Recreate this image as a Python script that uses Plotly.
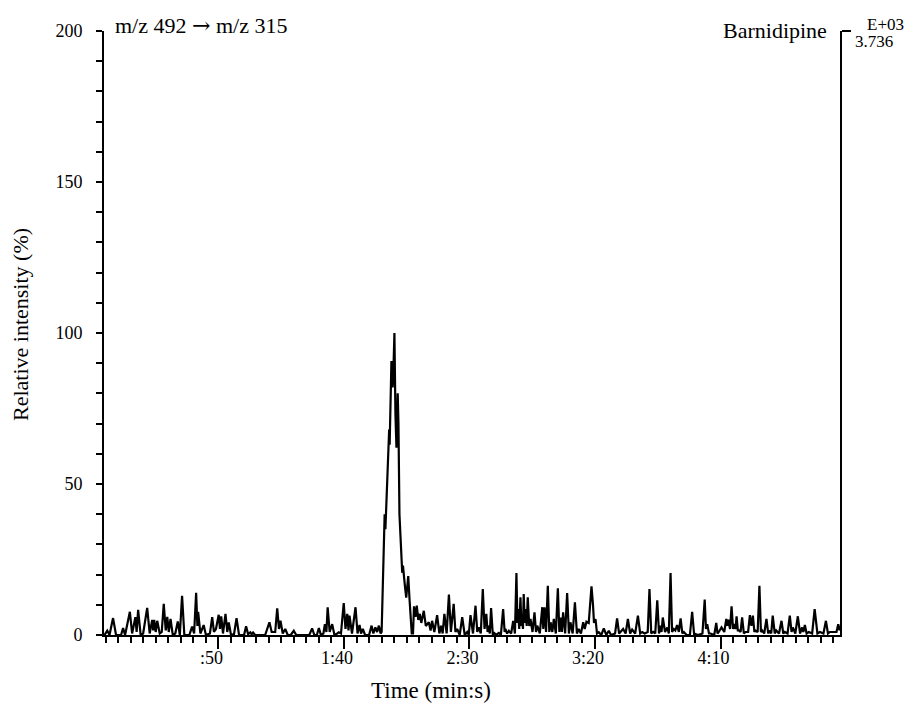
import plotly.graph_objects as go

# Barnidipine SRM chromatogram, m/z 492 -> m/z 315
# time in seconds, relative intensity in %

pre_time = [4.6, 5.7, 6.6, 8.0, 9.2, 11.2, 12.0, 12.8, 14.7, 15.6, 16.9, 17.4, 18.0, 19.0,
            20.0, 21.6, 22.6, 23.6, 24.0, 24.4, 25.0, 25.6, 26.6, 27.4, 28.2, 29.0, 29.6,
            30.2, 30.9, 31.8, 32.8, 33.8, 34.6, 35.5, 36.4, 38.4, 39.5, 40.3, 41.1, 41.6,
            41.9, 42.8, 44.1, 45.0, 46.6, 47.5, 48.2, 49.0, 50.1, 50.6, 51.1, 51.8, 52.8,
            53.5, 54.1, 55.0, 56.2, 57.2, 58.2, 60.2, 61.0, 61.8, 62.7, 63.2, 63.8, 64.6,
            68.6, 70.3, 71.2, 72.6, 73.4, 74.1, 74.7, 75.6, 76.6, 77.6, 78.8, 80.0, 81.0,
            86.2, 87.3, 88.2, 89.2, 90.0, 90.8, 91.8, 92.4, 93.0, 93.5, 94.3, 95.3, 96.2,
            97.0, 97.9, 98.8, 99.9, 100.6, 101.3, 101.8, 102.2, 103.2, 104.6, 105.4, 106.2,
            106.8, 107.5, 108.4, 110.0, 111.0, 111.7, 112.5, 113.2, 113.9, 114.6]
pre_int = [0, 1.4, 0, 5.6, 0, 0, 2.3, 0, 7.7, 0.5, 5.9, 1, 8.3, 0,
           0.5, 9.0, 0.5, 5.0, 1.5, 5.0, 1, 4.7, 0.5, 1, 10.3, 1.5, 6.0,
           1, 5.3, 0, 0.5, 4.5, 0, 13.0, 0, 0, 2.8, 0.5, 14.0, 3,
           7.7, 0.5, 3.3, 0, 0.5, 5.9, 1, 2, 6.7, 2, 6.2, 0.5, 7.0,
           1, 4.2, 0, 0.3, 5.6, 0, 0, 2.9, 0.3, 0.9, 0.2, 0.8, 0,
           0, 4.2, 1, 1, 8.8, 2, 4.7, 0.5, 2.0, 0, 0, 1.4, 0,
           0, 2.2, 0, 0, 2.3, 0, 0.5, 3.6, 1, 9.2, 1, 3.6, 0,
           0.3, 0.9, 0.5, 10.6, 2, 7.0, 1.5, 6.4, 0.5, 9.2, 0.5, 3.3,
           0.5, 2.0, 0, 0, 3.1, 0.5, 2.5, 1, 3.1, 0.5]

peak_time = [115.0, 115.9, 116.2, 116.5, 117.2, 117.8, 118.0, 118.2, 118.6, 118.9, 119.2,
             119.4, 119.7, 120.1, 120.5, 120.9, 121.4, 121.7, 122.1, 122.5, 122.9, 123.2,
             123.5, 123.8, 124.3, 124.8, 125.2, 125.6, 126.1, 126.5, 127.0, 127.5, 127.9,
             128.5, 129.0, 129.6, 130.2, 130.8, 131.8, 132.6, 133.8, 134.5]
peak_int = [1, 38.8, 40, 35, 51, 66.6, 68, 63, 75, 90.7, 86,
            82, 88, 100, 73, 62, 80, 70, 40, 32, 30, 20.6,
            23, 19, 16, 12.4, 16, 19.5, 12, 8, 0.5, 0.5, 9.5,
            6, 9.7, 5, 7, 4, 8, 3, 4.2, 1.5]

post_time = [135.1, 136.0, 137.1, 138.0, 138.7, 139.3, 140.0, 140.9, 141.8, 142.6, 143.7,
             144.4, 145.1, 146.1, 147.1, 148.1, 149.1, 149.7, 150.4, 151.4, 152.4, 153.1,
             153.7, 154.5, 155.3, 156.0, 156.7, 157.2, 157.7, 158.1, 158.6, 159.3, 159.7,
             160.5, 161.7, 162.5, 163.4, 164.0, 164.3, 165.0, 165.7, 166.6, 167.4, 168.1,
             168.7, 169.1, 169.4, 169.8, 170.3, 170.7, 171.0, 171.3, 171.6, 172.0, 172.3,
             172.8, 173.2, 173.8, 174.3, 175.1, 175.9, 176.5, 177.0, 178.0, 179.0, 179.4,
             179.9, 180.5, 181.2, 181.8, 182.3, 183.0, 183.6, 184.4, 185.2, 185.8, 186.3,
             186.8, 187.3, 188.1, 188.9, 189.6, 190.2, 191.1, 192.0, 192.8, 193.5, 194.4,
             195.3, 195.9, 196.6, 197.5, 198.0, 198.6, 199.2, 199.6, 200.2, 200.8, 201.5,
             202.5, 203.5, 204.5, 205.5, 206.4, 208.0, 208.8, 209.6, 211.2, 212.2, 213.1,
             214.0, 214.8, 216.0, 217.1, 218.0, 218.8, 219.8, 221.0, 221.7, 222.4, 223.2,
             224.0, 224.8, 225.5, 226.1, 226.5, 227.0, 227.9, 228.8, 229.4, 230.1, 230.7,
             231.4, 232.0, 232.7, 233.4, 234.1, 234.8, 235.4, 236.5, 237.8, 238.7, 239.5,
             240.0, 241.0, 242.8, 243.7, 244.2, 244.7, 245.4, 246.0, 247.5, 248.3, 248.8,
             249.3, 250.4, 251.5, 252.3, 252.7, 253.1, 253.8, 254.4, 255.0, 255.5, 256.0,
             256.4, 256.9, 257.3, 258.0, 258.6, 259.3, 260.0, 261.0, 261.7, 262.3, 262.9,
             263.5, 263.9, 264.8, 265.5, 266.1, 266.6, 267.4, 268.3, 269.0, 269.6, 270.2,
             270.8, 271.6, 272.2, 273.3, 274.3, 275.0, 275.6, 276.7, 277.6, 278.3, 278.8,
             279.8, 280.8, 281.7, 282.5, 283.0, 283.6, 284.3, 285.2, 286.5, 287.5, 288.6,
             289.6, 291.0, 292.0, 292.8, 293.6, 295.0, 296.2, 296.9, 297.5]
post_int = [4.7, 1, 6.6, 0.5, 3.1, 0.5, 7.0, 0.5, 13.4, 1, 10.3,
            1, 2.0, 0, 5.9, 0, 1, 0, 6.6, 0.5, 9.7, 1,
            2.5, 0.5, 15.2, 2, 7.0, 1, 3.1, 0.5, 8.9, 0, 0.9,
            0, 0.7, 0, 8.6, 1, 2, 0.5, 1.4, 0.5, 4.7, 0.5,
            20.5, 4, 8.6, 2, 12.5, 3, 5.3, 2, 13.6, 4, 8.6,
            3, 12.5, 3, 5.3, 1, 7.5, 1, 3.1, 0.5, 9.2, 2,
            9.2, 1, 16.3, 1, 4.2, 1, 5.3, 0.5, 15.5, 1, 5.8,
            1, 7.5, 0.5, 13.9, 0.5, 4.2, 0.5, 10.8, 0.5, 2.0, 0.5,
            4.2, 2, 4.4, 4, 10, 16.1, 10, 4, 5.3, 0.5, 0.9,
            0, 2.2, 0, 1.4, 0, 0.5, 5.5, 0.5, 2.0, 0.5, 5.3,
            0.5, 1.8, 0.5, 6.4, 0.5, 1, 0.5, 1, 15.2, 0.5, 1,
            0.5, 11.5, 0.5, 3.1, 1, 5.8, 1, 2.5, 0.5, 20.5, 1,
            2, 1.5, 3.3, 1, 5.5, 0.5, 1, 0, 0, 7.7, 0,
            0.3, 0, 0.5, 11.7, 2, 3.6, 0.5, 0.5, 0, 4, 0.5,
            1, 2.5, 1, 5.3, 3, 5.1, 2, 9.5, 2, 3.6, 2,
            6.2, 1.5, 1.5, 1, 5.8, 0.5, 1, 1, 6.6, 3, 6.4,
            1, 1.5, 1, 16.3, 1, 1.5, 0.5, 5.3, 0.5, 1.5, 0.5,
            6.4, 0.5, 1.5, 0.5, 4.7, 0.5, 1, 0.5, 6.4, 1, 2.5,
            0.5, 6.2, 0.5, 2.5, 1, 3.3, 0.5, 1, 0.5, 8.6, 0.5,
            1, 0.5, 4.7, 0.5, 1, 1, 1, 3.6, 1.5]

major_ticks = [50, 100, 150, 200, 250]
major_labels = [":50", "1:40", "2:30", "3:20", "4:10"]
y_ticks = [0, 50, 100, 150, 200]

time_s = pre_time + peak_time + post_time
intensity = pre_int + peak_int + post_int

W, H = 906, 703
L, R, T, B = 104, 66, 31, 68
FONT = "Liberation Serif, Times New Roman, serif"


def px(x):
    return (x - L) / (W - L - R)


def py(y):
    return (H - B - y) / (H - T - B)


fig = go.Figure()
fig.add_trace(go.Scatter(
    x=time_s, y=intensity, mode="lines",
    line=dict(color="black", width=2.2), hoverinfo="skip", showlegend=False,
))
# empty trace so the right-hand scale bar axis is drawn
fig.add_trace(go.Scatter(x=[], y=[], yaxis="y2", showlegend=False))

axis_font = dict(family=FONT, size=18, color="black")

fig.update_layout(
    width=W, height=H,
    margin=dict(l=L, r=R, t=T, b=B),
    paper_bgcolor="white", plot_bgcolor="white",
    font=dict(family=FONT, color="black"),
    xaxis=dict(
        range=[4.4, 297.6], showgrid=False, zeroline=False,
        showline=True, linecolor="black", linewidth=2,
        tickmode="array", tickvals=major_ticks, ticktext=major_labels,
        ticks="outside", ticklen=12, tickwidth=2, tickcolor="black",
        ticklabelshift=-7, ticklabelstandoff=-7, tickfont=axis_font,
        minor=dict(tickmode="linear", tick0=0, dtick=5, ticks="outside",
                   ticklen=6, tickwidth=2, tickcolor="black"),
    ),
    yaxis=dict(
        range=[0, 200], showgrid=False, zeroline=False,
        showline=True, linecolor="black", linewidth=2,
        tickmode="array", tickvals=y_ticks,
        ticks="outside", ticklen=6, tickwidth=2, tickcolor="black",
        ticklabelstandoff=10, tickfont=axis_font,
        minor=dict(tickmode="linear", tick0=0, dtick=10, ticks="outside",
                   ticklen=6, tickwidth=2, tickcolor="black"),
    ),
    yaxis2=dict(
        overlaying="y", side="right", range=[0, 200],
        showgrid=False, zeroline=False, showline=True,
        linecolor="black", linewidth=2,
        tickmode="array", tickvals=[200], ticks="outside", ticklen=9,
        tickwidth=2, tickcolor="black", showticklabels=False,
    ),
)

arrow = '<span style="font-family:DejaVu Serif">\u2192</span>'
annotations = [
    dict(text="m/z 492 " + arrow + " m/z 315", x=px(113), y=py(25.5), xanchor="left",
         yanchor="middle", font=dict(size=22)),
    dict(text="Barnidipine", x=px(829), y=py(30), xanchor="right",
         yanchor="middle", font=dict(size=22)),
    dict(text="E+03", x=px(865), y=py(24.5), xanchor="left",
         yanchor="middle", font=dict(size=17)),
    dict(text="3.736", x=px(853), y=py(41.5), xanchor="left",
         yanchor="middle", font=dict(size=17)),
    dict(text="Time (min:s)", x=px(431), y=py(690), xanchor="center",
         yanchor="middle", font=dict(size=23)),
    dict(text="Relative intensity (%)", x=px(20), y=py(325), xanchor="center",
         yanchor="middle", textangle=-90, font=dict(size=22)),
]
for a in annotations:
    a.update(xref="paper", yref="paper", showarrow=False)
    a["font"].update(family=FONT, color="black")
fig.update_layout(annotations=annotations)

fig.write_html("out.html")
